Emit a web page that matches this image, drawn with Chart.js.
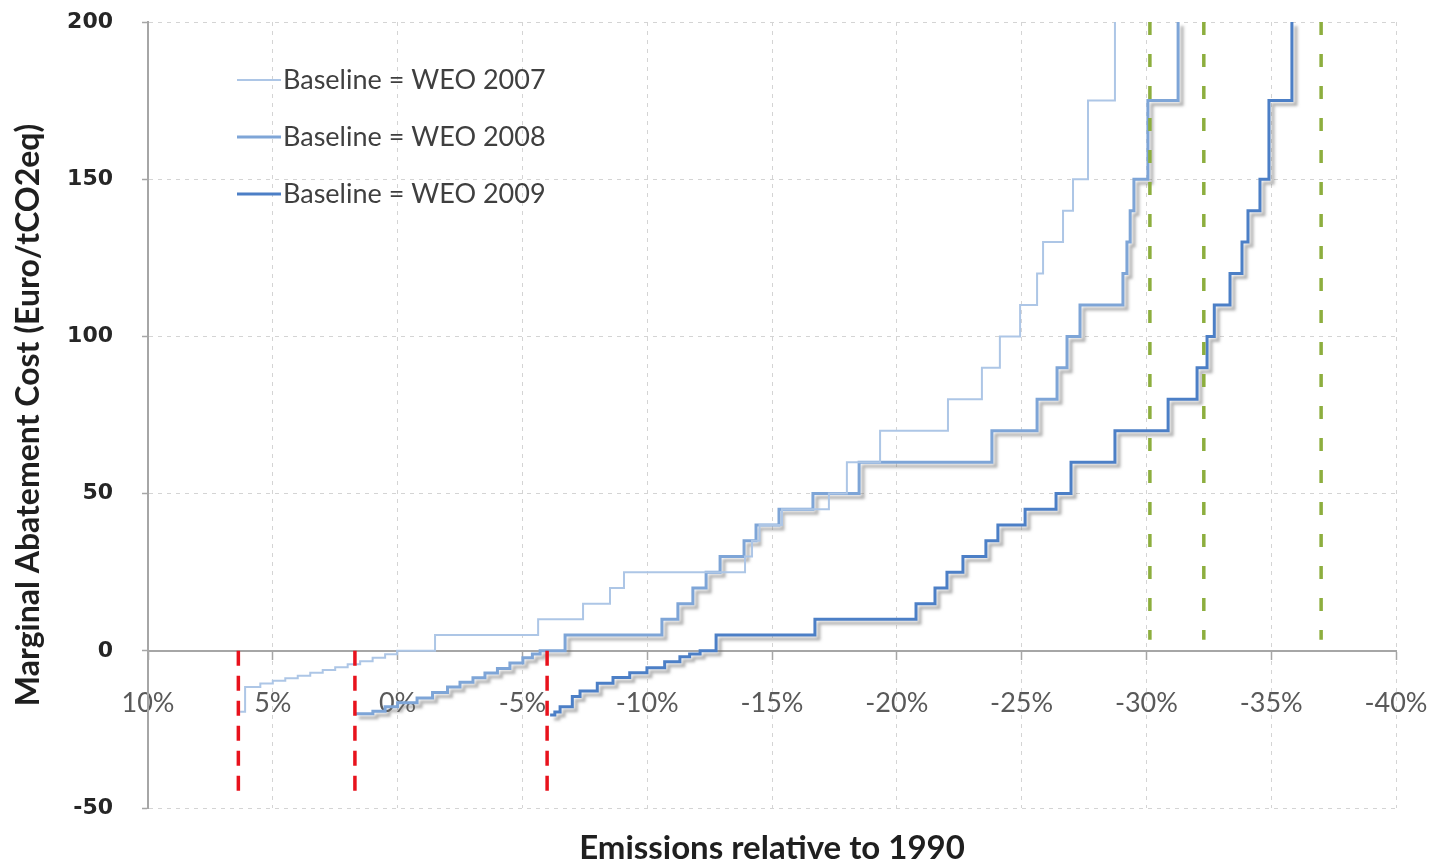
<!DOCTYPE html>
<html>
<head>
<meta charset="utf-8">
<script src="https://cdn.jsdelivr.net/npm/chart.js@4/dist/chart.umd.min.js"></script>
<style>
html,body{margin:0;padding:0;background:#ffffff;}
#wrap{width:1441px;height:865px;position:relative;}
</style>
</head>
<body>
<div id="wrap"><canvas id="c" width="1441" height="865"></canvas></div>
<script>
// ---- data ----
const seriesLabels = ['Baseline = WEO 2007', 'Baseline = WEO 2008', 'Baseline = WEO 2009'];

// emissions relative to 1990 (%) where each step occurs, and the new cost level (Euro/tCO2eq)
const weo2007X = [6.31, 6.11, 5.5, 5.0, 4.5, 4.0, 3.5, 3.0, 2.5, 2.0, 1.5, 1.0, 0.5, 0.02, -1.50, -5.63, -7.43, -8.51, -9.07, -13.92, -14.2, -14.5, -15.4, -17.28, -18.0, -19.33, -22.05, -23.41, -24.13, -24.94, -25.62, -25.86, -26.66, -27.06, -27.66, -28.74];
const weo2007Y = [-19.4, -11.5, -10.4, -9.5, -8.7, -7.9, -7.0, -6.1, -5.2, -4.3, -3.3, -2.2, -1.1, 0, 5, 10, 15, 20, 25, 30, 35, 40, 45, 50, 60, 70, 80, 90, 100, 110, 120, 130, 140, 150, 175, 200];

const weo2008X = [1.71, 0.99, 0.5, 0.0, -0.78, -1.4, -2.0, -2.5, -3.02, -3.5, -4.0, -4.5, -5.02, -5.4, -5.71, -6.71, -10.59, -11.23, -11.83, -12.36, -12.92, -13.88, -14.36, -15.28, -16.64, -18.49, -23.81, -25.62, -26.42, -26.82, -27.34, -29.06, -29.22, -29.35, -29.5, -30.06, -31.27];
const weo2008Y = [-20, -19.2, -17.8, -16.5, -15, -13.3, -11.5, -10.0, -8.6, -7.1, -5.6, -3.9, -2.2, -1.0, 0, 5, 10, 15, 20, 25, 30, 35, 40, 45, 50, 60, 70, 80, 90, 100, 110, 120, 130, 140, 150, 175, 200];

const weo2009X = [-6.11, -6.3, -6.51, -7.0, -7.31, -8.0, -8.63, -9.3, -9.99, -10.7, -11.31, -11.7, -12.12, -12.76, -16.72, -20.77, -21.53, -22.01, -22.65, -23.57, -24.05, -25.14, -26.38, -26.98, -28.74, -30.87, -32.03, -32.43, -32.72, -33.35, -33.83, -34.07, -34.55, -34.91, -35.83];
const weo2009Y = [-20.4, -19.5, -17.8, -14.5, -12.8, -10.3, -8.5, -7.0, -5.4, -3.5, -1.9, -1.0, 0, 5, 10, 15, 20, 25, 30, 35, 40, 45, 50, 60, 70, 80, 90, 100, 110, 120, 130, 140, 150, 175, 200];

// dashed marker lines
const redLinesX = [6.38, 1.71, -5.99];
const redLineRange = [0, -47.5];
const greenLinesX = [-30.14, -32.3, -37.0];
const greenLineRange = [200, 3.5];

// axes
const xTicks = [10, 5, 0, -5, -10, -15, -20, -25, -30, -35, -40];
const yTicks = [-50, 0, 50, 100, 150, 200];
const xTitle = 'Emissions relative to 1990';
const yTitle = 'Marginal Abatement Cost (Euro/tCO2eq)';

// ---- build ----
const pts = (xs, ys) => xs.map((x, i) => ({x: x, y: ys[i]}));
const vline = (x, range) => range.map(y => ({x: x, y: y}));

const curveColors = ['#adc6e6', '#7ea5d7', '#4c7fc6'];
const curveWidths = [2, 3, 3];

const datasets = [
  {label: seriesLabels[0], data: pts(weo2007X, weo2007Y), borderColor: curveColors[0], borderWidth: curveWidths[0], stepped: true, order: 1, inLegend: true, shadow: false},
  {label: seriesLabels[1], data: pts(weo2008X, weo2008Y), borderColor: curveColors[1], borderWidth: curveWidths[1], stepped: true, order: 2, inLegend: true, shadow: true},
  {label: seriesLabels[2], data: pts(weo2009X, weo2009Y), borderColor: curveColors[2], borderWidth: curveWidths[2], stepped: true, order: 3, inLegend: true, shadow: true}
];
redLinesX.forEach(x => datasets.push({label: '', data: vline(x, redLineRange), borderColor: '#e8121c', borderWidth: 3.5, borderDash: [15, 10], order: 0}));
greenLinesX.forEach(x => datasets.push({label: '', data: vline(x, greenLineRange), borderColor: '#8dae3e', borderWidth: 3.5, borderDash: [13, 19], order: 0}));

const shadowPlugin = {
  id: 'lineShadow',
  beforeDatasetDraw(chart, args) {
    const ctx = chart.ctx;
    const ds = chart.data.datasets[args.index];
    ctx.save();
    if (ds.shadow) {
      ctx.shadowColor = 'rgba(110,110,110,0.55)';
      ctx.shadowOffsetX = 4;
      ctx.shadowOffsetY = 4;
      ctx.shadowBlur = 3;
    }
  },
  afterDatasetDraw(chart) { chart.ctx.restore(); }
};

const legendPlugin = {
  id: 'insideLegend',
  afterDatasetsDraw(chart) {
    const ctx = chart.ctx;
    const a = chart.chartArea;
    const lx = a.left + 89, lw = 44, ty = a.top + 58, gap = 57;
    ctx.save();
    ctx.font = '27px Lato';
    ctx.fillStyle = '#3f3f3f';
    ctx.textBaseline = 'middle';
    ctx.textAlign = 'left';
    chart.data.datasets.filter(d => d.inLegend).forEach((d, i) => {
      const y = ty + i * gap;
      ctx.strokeStyle = d.borderColor;
      ctx.lineWidth = d.borderWidth;
      ctx.beginPath();
      ctx.moveTo(lx, y);
      ctx.lineTo(lx + lw, y);
      ctx.stroke();
      ctx.fillText(d.label, lx + lw + 2, y);
    });
    ctx.restore();
  }
};

new Chart(document.getElementById('c'), {
  type: 'line',
  data: {datasets: datasets},
  options: {
    responsive: false,
    animation: false,
    events: [],
    layout: {padding: {left: 0, right: 45, top: 22, bottom: 0}},
    elements: {point: {radius: 0}, line: {tension: 0, fill: false}},
    plugins: {
      legend: {display: false},
      tooltip: {enabled: false},
      title: {
        display: true, position: 'bottom', fullSize: false, text: xTitle,
        color: '#1f1f1f', font: {family: 'Lato', size: 33, weight: 'bold', lineHeight: 1.0},
        padding: {top: 24, bottom: 0}
      }
    },
    scales: {
      x: {
        type: 'linear', reverse: true, min: -40, max: 10,
        position: {y: 0},
        afterBuildTicks: s => { s.ticks = xTicks.map(v => ({value: v})); },
        afterFit: s => { s.paddingLeft = 0; s.paddingRight = 0; },
        ticks: {callback: v => v + '%', color: '#595959', font: {family: 'Lato', size: 27}, padding: 28, maxRotation: 0, autoSkip: false},
        grid: {color: '#d4d4d4', lineWidth: 1, drawTicks: true, tickLength: 8, tickColor: '#a6a6a6', tickWidth: 1.5},
        border: {display: true, color: '#a6a6a6', width: 2, dash: [4, 5]}
      },
      y: {
        type: 'linear', min: -50, max: 200,
        afterBuildTicks: s => { s.ticks = yTicks.map(v => ({value: v})); },
        afterFit: s => { s.width = 148; s.paddingTop = 0; s.paddingBottom = 0; },
        ticks: {color: '#262626', font: {family: 'DejaVu Sans', size: 22, weight: 'bold'}, padding: 29},
        grid: {color: '#d4d4d4', lineWidth: 1, drawTicks: true, tickLength: 6, tickColor: '#a6a6a6', tickWidth: 1.5},
        border: {display: true, color: '#a6a6a6', width: 2, dash: [4, 5]},
        title: {display: true, text: yTitle, color: '#1f1f1f', font: {family: 'Lato', size: 32, weight: 'bold'}, padding: {top: 9, bottom: 0}}
      }
    }
  },
  plugins: [shadowPlugin, legendPlugin]
});
</script>
</body>
</html>
